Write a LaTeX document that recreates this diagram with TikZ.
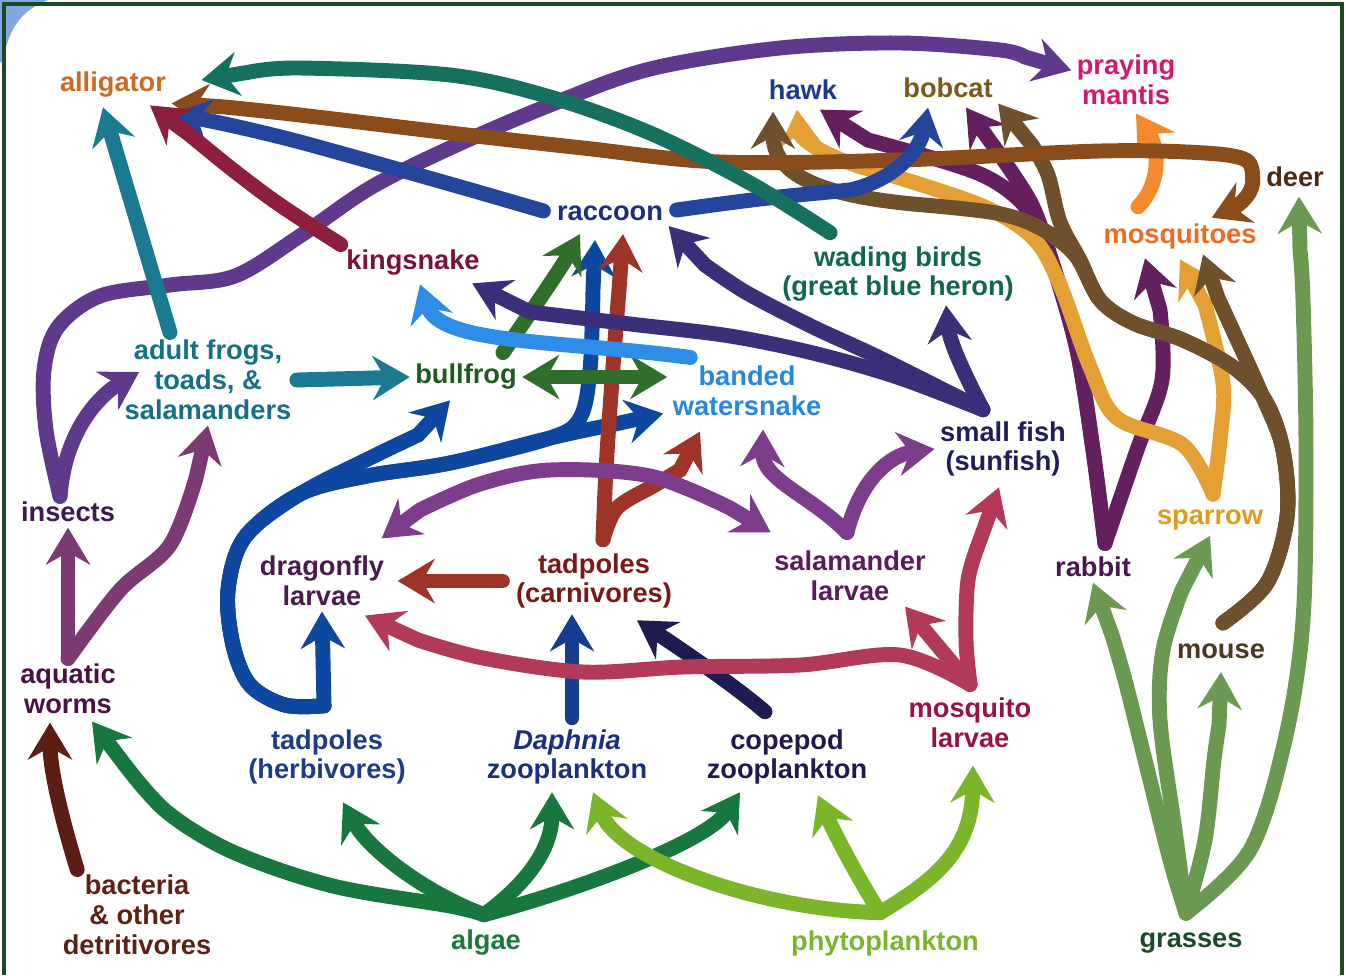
\documentclass[tikz,border=0pt]{standalone}
\usepackage{fontspec}
\setmainfont{Liberation Sans}
\usepackage{xcolor}
\usepackage{tikz}
\usetikzlibrary{arrows.meta,backgrounds}
\definecolor{framegreen}{HTML}{1C4A1E}
\definecolor{cornerblue}{HTML}{7FA8E0}
% arrow colours
\definecolor{wadteal}{HTML}{16705F}
\definecolor{deerbrown}{HTML}{8B4C1C}
\definecolor{raccblue}{HTML}{24459B}
\definecolor{kingred}{HTML}{8E1E3E}
\definecolor{frogteal}{HTML}{1A7A92}
\definecolor{insviolet}{HTML}{5F3A8C}
\definecolor{wormplum}{HTML}{7B3A72}
\definecolor{bactbrown}{HTML}{5B1E14}
\definecolor{algaegreen}{HTML}{17773D}
\definecolor{phytolime}{HTML}{7AB52A}
\definecolor{grassgreen}{HTML}{6B9952}
\definecolor{rabbitplum}{HTML}{641F5E}
\definecolor{sparrowgold}{HTML}{E4A035}
\definecolor{mousebrown}{HTML}{6E502C}
\definecolor{fishindigo}{HTML}{3C2F7A}
\definecolor{snakeblue}{HTML}{2E8DE6}
\definecolor{bullgreen}{HTML}{2F6E2B}
\definecolor{herbblue}{HTML}{0E47A0}
\definecolor{carnred}{HTML}{9E3328}
\definecolor{salviolet}{HTML}{7E3C8C}
\definecolor{larvcrimson}{HTML}{B23A58}
\definecolor{daphblue}{HTML}{163D91}
\definecolor{copenavy}{HTML}{1E1A52}
\definecolor{mosqorange}{HTML}{F5892E}
% label colours
\definecolor{talli}{HTML}{CC6A22}
\definecolor{thawk}{HTML}{1C3A8C}
\definecolor{tbob}{HTML}{7A5A1A}
\definecolor{tmantis}{HTML}{D7176F}
\definecolor{tdeer}{HTML}{4A2A12}
\definecolor{tmosq}{HTML}{EE6A1E}
\definecolor{tracc}{HTML}{1D2F7C}
\definecolor{tking}{HTML}{7B1232}
\definecolor{twader}{HTML}{0F6652}
\definecolor{tfrogs}{HTML}{167085}
\definecolor{tbull}{HTML}{1F5A1E}
\definecolor{tsnake}{HTML}{2288E0}
\definecolor{tfish}{HTML}{1E1E5C}
\definecolor{tins}{HTML}{3E1A4C}
\definecolor{tdfly}{HTML}{4A1A4C}
\definecolor{tcarn}{HTML}{7A1818}
\definecolor{tsal}{HTML}{5C1A5E}
\definecolor{trabbit}{HTML}{4A1650}
\definecolor{tsparrow}{HTML}{E09A1E}
\definecolor{tmouse}{HTML}{4A3820}
\definecolor{tworms}{HTML}{4A1244}
\definecolor{therb}{HTML}{1C3C8A}
\definecolor{tdaph}{HTML}{1C2F7C}
\definecolor{tcope}{HTML}{1E1A4C}
\definecolor{tlarv}{HTML}{9A1244}
\definecolor{tbact}{HTML}{5E2014}
\definecolor{talgae}{HTML}{187A3A}
\definecolor{tphyto}{HTML}{7AB52A}
\definecolor{tgrass}{HTML}{1A4A2A}

\begin{document}
\begin{tikzpicture}[x=0.02cm, y=-0.02cm,
    lbl/.style={font=\fontsize{15.5}{17}\selectfont\bfseries, align=center, inner sep=3pt},
    fwtip/.tip={Stealth[length=21pt,width=25pt,inset=7pt]},
    arr/.style={line width=8.5pt, line cap=round, -fwtip},
    web/.style={smooth, tension=0.55}]
\useasboundingbox (0,0) rectangle (1346,975);

% organisms
\node[lbl, text=talli] (alli) at (113,85) {alligator};
\node[lbl, text=thawk] (hawk) at (803,90) {hawk};
\node[lbl, text=tbob] (bobcat) at (948,88) {bobcat};
\node[lbl, text=tmantis] (mantis) at (1126,80) {praying\\mantis};
\node[lbl, text=tdeer] (deer) at (1295,177) {deer};
\node[lbl, text=tmosq] (mosq) at (1180,236) {mosquitoes};
\node[lbl, text=tracc] (racc) at (610,213) {raccoon};
\node[lbl, text=tking] (king) at (413,263) {kingsnake};
\node[lbl, text=twader] (wader) at (898,274) {wading birds\\(great blue heron)};
\node[lbl, text=tfrogs] (frogs) at (208,380) {adult frogs,\\toads, \&\\salamanders};
\node[lbl, text=tbull] (bull) at (466,377) {bullfrog};
\node[lbl, text=tsnake] (wsnake) at (747,391) {banded\\watersnake};
\node[lbl, text=tfish] (fish) at (1003,449) {small fish\\(sunfish)};
\node[lbl, text=tins] (insects) at (68,512) {insects};
\node[lbl, text=tdfly] (dfly) at (322,581) {dragonfly\\larvae};
\node[lbl, text=tcarn] (tcarn) at (594,581) {tadpoles\\(carnivores)};
\node[lbl, text=tsal] (slarv) at (850,576) {salamander\\larvae};
\node[lbl, text=trabbit] (rabbit) at (1093,567) {rabbit};
\node[lbl, text=tsparrow] (sparrow) at (1210,520) {sparrow};
\node[lbl, text=tmouse] (mouse) at (1221,651) {mouse};
\node[lbl, text=tworms] (worms) at (68,689) {aquatic\\worms};
\node[lbl, text=therb] (therb) at (327,757) {tadpoles\\(herbivores)};
\node[lbl, text=tdaph] (daph) at (567,757) {\textit{Daphnia}\\zooplankton};
\node[lbl, text=tcope] (cope) at (787,757) {copepod\\zooplankton};
\node[lbl, text=tlarv] (mlarv) at (970,723) {mosquito\\larvae};
\node[lbl, text=tbact] (bact) at (137,915) {bacteria\\\& other\\detritivores};
\node[lbl, text=talgae] (algae) at (486,943) {algae};
\node[lbl, text=tphyto] (phyto) at (885,943) {phytoplankton};
\node[lbl, text=tgrass] (grass) at (1191,943) {grasses};

% tails shared by several arrows
\coordinate (ag) at ([shift={(-2,-10)}]algae.north);
\coordinate (ph) at ([shift={(-5,-12)}]phyto.north);
\coordinate (gr) at ([shift={(-5,-14)}]grass.north);
\coordinate (rb) at ([shift={(12,-8)}]rabbit.north);
\coordinate (sp) at ([shift={(3,-10)}]sparrow.north);
\coordinate (ms) at ([shift={(2,-15)}]mouse.north);
\coordinate (sf) at ([shift={(-20,-6)}]fish.north);
\coordinate (tb) at ([shift={(-3,-18)}]therb.north);
\coordinate (tc) at ([shift={(9,-8)}]tcarn.north);
\coordinate (sl) at ([shift={(-3,-13)}]slarv.north);
\coordinate (ml) at ([shift={(0,-8)}]mlarv.north);
\coordinate (dr) at ([shift={(-8,0)}]deer.west);

\begin{scope}[on background layer]
\fill[cornerblue] (0,0) -- (48,0) .. controls (22,10) and (8,28) .. (3,62) -- (0,62) -- cycle;
\draw[framegreen, line width=2.4pt] (4,975) -- (4,4) -- (1342,4) -- (1342,975);

% producers
\draw[arr, algaegreen] plot[web] coordinates {(ag) (450,906) (333,886) (233,852) (167,812) (125,765)} -- ([shift={(24,2)}]worms.south);
\draw[arr, algaegreen] (ag) .. controls (430,895) and (370,852) .. ([shift={(16,12)}]therb.south);
\draw[arr, algaegreen] (ag) .. controls (525,885) and (552,850) .. ([shift={(-15,2)}]daph.south);
\draw[arr, algaegreen] (ag) .. controls (560,895) and (705,845) .. ([shift={(-47,2)}]cope.south);
\draw[arr, phytolime] (ph) .. controls (760,910) and (620,860) .. ([shift={(26,2)}]daph.south);
\draw[arr, phytolime] (ph) .. controls (862,885) and (835,835) .. ([shift={(31,5)}]cope.south);
\draw[arr, phytolime] (ph) .. controls (935,880) and (972,850) .. ([shift={(3,12)}]mlarv.south);
\draw[arr, grassgreen] plot[web] coordinates {(gr) (1170,860) (1145,760) (1125,680) (1112,635)} -- (rabbit.south);
\draw[arr, grassgreen] plot[web] coordinates {(gr) (1175,830) (1160,720) (1163,650) (1182,590)} -- (sparrow.south);
\draw[arr, grassgreen] plot[web] coordinates {(gr) (1205,840) (1214,760) (1219,725)} -- ([shift={(0,8)}]mouse.south);
\draw[arr, grassgreen] plot[web] coordinates {(gr) (1250,850) (1285,740) (1303,620) (1306,450) (1303,300) (1300,250)} -- ([shift={(4,4)}]deer.south);
\draw[arr, bactbrown] ([shift={(20,0)}]bact.north west) .. controls (62,820) and (50,770) .. ([shift={(-18,3)}]worms.south);

% pond
\draw[arr, daphblue] ([shift={(5,-6)}]daph.north) -- ([shift={(-22,0)}]tcarn.south);
\draw[arr, copenavy] ([shift={(-22,-12)}]cope.north) .. controls (740,690) and (690,655) .. ([shift={(43,6)}]tcarn.south);
\draw[arr, larvcrimson] plot[web] coordinates {(ml) (966,640) (968,580) (980,540)} -- ([shift={(-4,5)}]fish.south);
\draw[arr, larvcrimson] (ml) -- ([shift={(55,0)}]slarv.south);
\draw[arr, larvcrimson] plot[web] coordinates {(ml) (900,655) (800,665) (683,667) (583,672) (483,658) (418,640)} -- ([shift={(43,4)}]dfly.south);
\draw[arr, herbblue] (tb) -- (dfly.south);
\draw[arr, herbblue] plot[web] coordinates {(tb) (285,705) (250,685) (233,645) (228,590) (245,537) (300,494) (370,458) (418,435)} -- ([shift={(-16,5)}]bull.south);
\draw[arr, herbblue] plot[web] coordinates {(tb) (285,705) (250,685) (233,645) (228,590) (245,537) (300,494) (367,476) (450,463) (550,438) (615,424)} -- ([shift={(-4,-8)}]wsnake.south west);
\draw[arr, herbblue] plot[web] coordinates {(tb) (285,705) (250,685) (233,645) (228,590) (245,537) (300,494) (367,476) (450,463) (550,438) (580,418) (590,370) (593,290)} -- ([shift={(-15,14)}]racc.south);
\draw[arr, carnred] ([shift={(-8,0)}]tcarn.west) -- ([shift={(8,0)}]dfly.east);
\draw[arr, carnred] plot[web] coordinates {(tc) (606,470) (612,380) (619,290)} -- ([shift={(13,8)}]racc.south);
\draw[arr, carnred] plot[web] coordinates {(tc) (617,508) (655,485) (680,470)} -- ([shift={(-47,10)}]wsnake.south);
\draw[arr, salviolet, fwtip-fwtip] ([shift={(-8,-12)}]dfly.north east) -- plot[web] coordinates {(420,510) (480,484) (550,470) (650,476) (730,508)} -- ([shift={(2,-13)}]slarv.north west);
\draw[arr, salviolet] (sl) .. controls (810,495) and (762,480) .. ([shift={(16,8)}]wsnake.south);
\draw[arr, salviolet] (sl) .. controls (860,480) and (890,455) .. (fish.west);
\draw[arr, wormplum] (worms.north) -- (insects.south);
\draw[arr, wormplum] plot[web] coordinates {(worms.north) (120,590) (170,545) (196,478)} -- (frogs.south);
\draw[arr, insviolet] ([shift={(-8,0)}]insects.north) .. controls (65,430) and (100,395) .. ([shift={(20,-8)}]frogs.west);
\draw[arr, frogteal] (frogs.east) -- (bull.west);
\draw[arr, bullgreen, fwtip-fwtip] (bull.east) -- (bull.east -| wsnake.west);
\draw[arr, bullgreen] ([shift={(37,-6)}]bull.north) .. controls (530,313) and (560,270) .. ([shift={(-30,8)}]racc.south);
\draw[arr, snakeblue] ([shift={(23,-3)}]wsnake.north west) .. controls (560,340) and (440,345) .. ([shift={(7,3)}]king.south);
\draw[arr, fishindigo] (sf) .. controls (970,385) and (950,345) .. ([shift={(48,-2)}]wader.south);
\draw[arr, fishindigo] plot[web] coordinates {(sf) (880,358) (813,327) (747,293) (705,265)} -- (racc.south east);
\draw[arr, fishindigo] plot[web] coordinates {(sf) (900,378) (817,354) (730,336) (630,324) (530,312)} -- ([shift={(-13,2)}]king.south east);

% land
\draw[arr, rabbitplum] plot[web] coordinates {(rb) (1137,450) (1162,380) (1160,310)} -- ([shift={(-35,4)}]mosq.south);
\draw[arr, rabbitplum] plot[web] coordinates {(rb) (1093,450) (1077,350) (1052,262) (1032,205) (1000,155)} -- ([shift={(18,4)}]bobcat.south);
\draw[arr, rabbitplum] plot[web] coordinates {(rb) (1093,450) (1077,350) (1052,262) (1030,212) (980,174) (868,140)} -- ([shift={(17,4)}]hawk.south);
\draw[arr, sparrowgold] plot[web] coordinates {(sp) (1183,445) (1117,418) (1090,367) (1060,285) (1033,238) (980,205) (880,172)} .. controls (830,160) and (800,140) .. ([shift={(-6,4)}]hawk.south);
\draw[arr, sparrowgold] plot[web] coordinates {(sp) (1220,440) (1223,383) (1205,305)} -- ([shift={(0,5)}]mosq.south);
\draw[arr, mousebrown] plot[web] coordinates {(ms) (1267,583) (1287,517) (1283,450) (1262,395) (1235,335) (1218,298)} -- ([shift={(23,0)}]mosq.south);
\draw[arr, mousebrown] plot[web] coordinates {(ms) (1267,583) (1287,517) (1283,450) (1265,400) (1233,367) (1183,340) (1133,323) (1100,300) (1080,260) (1060,222) (1048,175) (1032,145)} -- (bobcat.south east);
\draw[arr, mousebrown] plot[web] coordinates {(ms) (1267,583) (1287,517) (1283,450) (1265,400) (1233,367) (1183,340) (1133,323) (1100,300) (1075,255) (1040,228) (996,213) (913,204)} .. controls (820,195) and (773,175) .. ([shift={(-30,6)}]hawk.south);
\draw[arr, mosqorange] ([shift={(-42,-11)}]mosq.north) .. controls (1160,185) and (1160,150) .. ([shift={(10,3)}]mantis.south);

% top predators
\draw[arr, insviolet] plot[web] coordinates {([shift={(-8,0)}]insects.north) (46,430) (44,370) (58,327) (100,296) (170,285) (235,276) (300,236) (370,188) (450,148) (550,105) (650,69) (780,48) (900,43) (1000,50) (1025,57)} -- (mantis.170);
\draw[arr, deerbrown] plot[web] coordinates {(dr) (1246,160) (1205,153) (1100,151) (900,160) (720,162) (583,148) (450,133) (300,115) (225,107)} -- (alli.south east);
\draw[arr, deerbrown] (dr) .. controls (1255,192) and (1240,205) .. (mosq.30);
\draw[arr, raccblue] plot[web] coordinates {([shift={(-8,-2)}]racc.west) (450,184) (300,142) (225,124)} -- ([shift={(2,10)}]alli.south east);
\draw[arr, raccblue] plot[web] coordinates {([shift={(8,-3)}]racc.east) (760,199) (850,190)} .. controls (895,180) and (920,150) .. ([shift={(-20,4)}]bobcat.south);
\draw[arr, kingred] plot[web] coordinates {(king.north west) (280,205) (233,170) (190,135)} -- ([shift={(37,2)}]alli.south);
\draw[arr, frogteal] ([shift={(-38,-2)}]frogs.north) -- ([shift={(-10,4)}]alli.south);
\draw[arr, wadteal] plot[web] coordinates {([shift={(-68,-8)}]wader.north) (750,183) (650,133) (550,97) (450,75) (300,68) (250,72)} -- ([shift={(30,-5)}]alli.east);
\end{scope}
\end{tikzpicture}
\end{document}
